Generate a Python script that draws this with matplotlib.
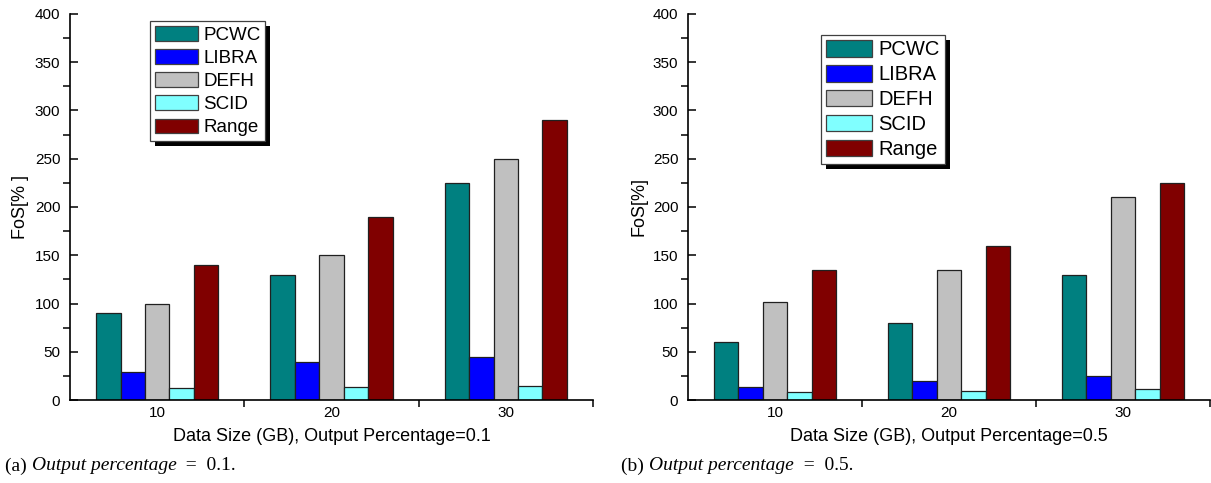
import numpy as np
import matplotlib
matplotlib.use('Agg')
import matplotlib.pyplot as plt
from matplotlib.patches import Rectangle
from matplotlib.transforms import IdentityTransform
from matplotlib.ticker import MultipleLocator, FixedLocator

plt.rcParams['font.family'] = ['Liberation Sans', 'DejaVu Sans']

# Data sizes (GB) and FoS values for each method
sizes = [10, 20, 30]
methods = ['PCWC', 'LIBRA', 'DEFH', 'SCID', 'Range']
colors = ['#008080', '#0000FF', '#C0C0C0', '#80FFFF', '#800000']

fos_01 = {
    'PCWC': [90, 130, 225],
    'LIBRA': [29, 39, 45],
    'DEFH': [100, 150, 250],
    'SCID': [12, 13, 15],
    'Range': [140, 190, 290],
}
fos_05 = {
    'PCWC': [60, 80, 130],
    'LIBRA': [13, 20, 25],
    'DEFH': [102, 135, 210],
    'SCID': [8, 9, 11],
    'Range': [135, 160, 225],
}

fig = plt.figure(figsize=(12.11, 4.83), dpi=100)
ax1 = fig.add_axes([70 / 1211, 83 / 483, 523 / 1211, 386 / 483])
ax2 = fig.add_axes([688 / 1211, 83 / 483, 522 / 1211, 386 / 483])

bar_w = 1.4


def draw_panel(ax, data, xlabel, ylabel, leg_anchor, leg_size, handle_len, handle_h, spacing):
    for i, m in enumerate(methods):
        xs = np.array(sizes) + (i - 2) * bar_w
        ax.bar(xs, data[m], width=bar_w, color=colors[i], edgecolor='#202020',
               linewidth=0.9, label=m, zorder=2)
    ax.set_xlim(5, 35)
    ax.set_ylim(0, 400)
    ax.spines['top'].set_visible(False)
    ax.spines['right'].set_visible(False)
    for s in ['left', 'bottom']:
        ax.spines[s].set_linewidth(1.2)
        ax.spines[s].set_zorder(3)
    ax.xaxis.set_major_locator(FixedLocator(sizes))
    ax.xaxis.set_minor_locator(FixedLocator([15, 25, 35]))
    ax.yaxis.set_major_locator(MultipleLocator(50))
    ax.yaxis.set_minor_locator(MultipleLocator(25))
    ax.tick_params(which='major', direction='in', length=6, width=1.1, labelsize=11, pad=4)
    ax.tick_params(which='minor', direction='out', length=5, width=1.1)
    ax.tick_params(axis='y', which='major', pad=7)
    ax.set_xlabel(xlabel, fontsize=13, labelpad=6)
    ax.set_ylabel(ylabel, fontsize=13, labelpad=4)

    leg = ax.legend(loc='upper left', bbox_to_anchor=leg_anchor, fontsize=leg_size,
                    fancybox=False, framealpha=1, edgecolor='#404040', borderaxespad=0,
                    handlelength=handle_len, handleheight=handle_h, handletextpad=0.3,
                    labelspacing=spacing, borderpad=0.25)
    leg.get_frame().set_linewidth(0.9)
    for h in leg.legend_handles:
        h.set_edgecolor('#404040')
    return leg


leg1 = draw_panel(ax1, fos_01, 'Data Size (GB), Output Percentage=0.1', 'FoS[% ]',
                  (0.153, 0.982), 13.5, 2.3, 0.85, 0.28)
leg2 = draw_panel(ax2, fos_05, 'Data Size (GB), Output Percentage=0.5', 'FoS[%]',
                  (0.255, 0.946), 14.5, 2.3, 0.9, 0.28)

# solid black drop shadow behind each legend
fig.canvas.draw()
for ax, leg in [(ax1, leg1), (ax2, leg2)]:
    bb = leg.get_window_extent()
    ax.add_patch(Rectangle((bb.x0 + 5, bb.y0 - 5), bb.width, bb.height,
                           transform=IdentityTransform(), facecolor='black',
                           edgecolor='none', zorder=4.9, clip_on=False))

# sub-figure captions
for x, tag, val in [(5, '(a)', '0.1.'), (621, '(b)', '0.5.')]:
    t1 = fig.text(x / 1211, 1 - 466 / 483, tag + ' ', fontsize=14,
                  family='Liberation Serif', va='center')
    fig.canvas.draw()
    bb = t1.get_window_extent()
    t2 = fig.text(bb.x1 / 1211, 1 - 466 / 483, 'Output percentage', fontsize=14,
                  family='Liberation Serif', style='italic', va='center')
    fig.canvas.draw()
    bb = t2.get_window_extent()
    fig.text(bb.x1 / 1211, 1 - 466 / 483, '  =  ' + val, fontsize=14,
             family='Liberation Serif', va='center')

fig.savefig('out.png', dpi=100)
